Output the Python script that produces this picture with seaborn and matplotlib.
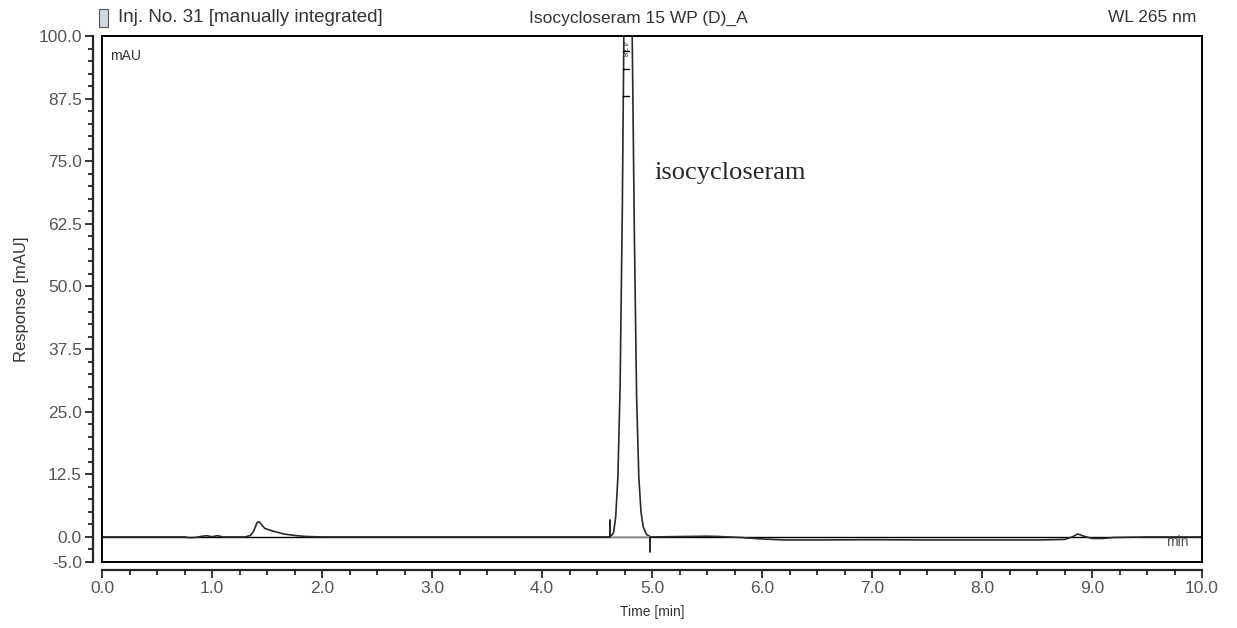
import numpy as np
import pandas as pd
import seaborn as sns
import matplotlib.pyplot as plt
from matplotlib.ticker import MultipleLocator, FixedLocator
from matplotlib.patches import Rectangle

# chromatogram trace (time in min, response in mAU)
time_min = [0.00, 0.75, 0.80, 0.85, 0.90, 0.95, 1.00, 1.05, 1.10, 1.30, 1.35, 1.38,
            1.41, 1.43, 1.48, 1.55, 1.65, 1.75, 1.85, 2.00, 4.62, 4.65, 4.67, 4.69,
            4.71, 4.73, 4.74, 4.75, 4.77, 4.78, 4.79, 4.81, 4.82, 4.84, 4.86, 4.88,
            4.90, 4.92, 4.95, 4.99, 5.50, 5.60, 5.80, 6.00, 6.20, 6.50, 7.00, 7.50,
            8.00, 8.50, 8.75, 8.82, 8.87, 8.92, 9.00, 9.10, 9.20, 9.50, 10.00]
response = [0.0, 0.0, -0.15, -0.1, 0.1, 0.25, 0.05, 0.25, 0.0, 0.0, 0.3, 1.2,
            2.9, 3.0, 1.7, 1.2, 0.6, 0.3, 0.1, 0.0, 0.0, 0.8, 4.0, 12.0,
            30.0, 65.0, 90.0, 115.0, 150.0, 160.0, 150.0, 115.0, 100.0, 60.0, 28.0, 12.0,
            5.0, 2.0, 0.5, 0.0, 0.15, 0.1, -0.1, -0.4, -0.6, -0.6, -0.55, -0.6,
            -0.6, -0.6, -0.5, 0.0, 0.6, 0.2, -0.3, -0.3, -0.1, 0.0, 0.0]

peak_rt = "4.78"
peak_name = "isocycloseram"
baseline_start = 4.62
baseline_end = 4.98

y_major = [-5.0, 0.0, 12.5, 25.0, 37.5, 50.0, 62.5, 75.0, 87.5, 100.0]
x_major = [0.0, 1.0, 2.0, 3.0, 4.0, 5.0, 6.0, 7.0, 8.0, 9.0, 10.0]

df = pd.DataFrame({"time": time_min, "resp": response})

sns.set_style("ticks")
plt.rcParams['font.family'] = ['Liberation Sans', 'DejaVu Sans']

fig = plt.figure(figsize=(12.37, 6.28), dpi=100)
ax = fig.add_axes([102/1237, 1 - 562/628, 1100/1237, 526/628])

ax.axhline(0, color="black", lw=1.0, zorder=1)
sns.lineplot(data=df, x="time", y="resp", ax=ax, color="#2a2a2a", lw=1.2, zorder=2)

# integration baseline and delimiters
ax.plot([baseline_start, baseline_end], [0, 0], color="#aaaaaa", lw=1.2, zorder=3)
ax.plot([baseline_start, baseline_start], [0, 3.4], color="black", lw=1.2, zorder=3)
ax.plot([baseline_end, baseline_end], [0, -3.0], color="black", lw=1.2, zorder=3)
for yy in [97.0, 93.5, 88.0]:
    ax.plot([4.74, 4.79], [yy, yy], color="black", lw=1.0, zorder=3)
ax.text(4.735, 99, peak_rt, rotation=-90, fontsize=6, va="top", ha="center", color="#333333")

ax.text(5.02, 72.6, peak_name, family="Liberation Serif", fontsize=19, va="center", ha="left")

ax.set_xlim(0, 10)
ax.set_ylim(-5, 100)

# plot frame, axes pulled outward like the original software
ax.spines["left"].set_position(("outward", 6.5))
ax.spines["bottom"].set_position(("outward", 6))
for s in ["left", "bottom"]:
    ax.spines[s].set_linewidth(1.6)
for s in ["top", "right"]:
    ax.spines[s].set_linewidth(1.4)
ax.add_patch(Rectangle((0, 0), 1, 1, transform=ax.transAxes, fill=False,
                       lw=1.4, ec="black", clip_on=False, zorder=5))

ax.yaxis.set_major_locator(FixedLocator(y_major))
ax.yaxis.set_minor_locator(MultipleLocator(2.5))
ax.xaxis.set_major_locator(FixedLocator(x_major))
ax.xaxis.set_minor_locator(MultipleLocator(0.25))
ax.set_yticklabels([f"{v:.1f}" for v in y_major])
ax.set_xticklabels([f"{v:.1f}" for v in x_major])
ax.tick_params(which="major", length=5.5, width=1.1, color="black", labelsize=12.5,
               labelcolor="#555555", pad=2.5)
ax.tick_params(which="minor", length=3.8, width=1.1, color="black")

ax.set_xlabel("Time [min]", fontsize=10, color="#333333", labelpad=6)
ax.set_ylabel("Response [mAU]", fontsize=12, color="#333333", labelpad=7)

ax.text(0.007, 0.975, "mAU", transform=ax.transAxes, fontsize=10, color="#333333",
        va="top", ha="left")
ax.text(0.988, 0.025, "min", transform=ax.transAxes, fontsize=10, color="#555555",
        va="bottom", ha="right")

# header line
fig.text(118/1237, 1 - 18/628, "Inj. No. 31 [manually integrated]", fontsize=13.5,
         color="#333333", va="center", ha="left")
fig.text(638/1237, 1 - 18/628, "Isocycloseram 15 WP (D)_A", fontsize=12.5,
         color="#333333", va="center", ha="center")
fig.text(1196/1237, 1 - 18/628, "WL 265 nm", fontsize=12.5,
         color="#333333", va="center", ha="right")
fig.patches.append(Rectangle((99/1237, 1 - 27/628), 9/1237, 18/628,
                             transform=fig.transFigure, fc="#cfd8e0", ec="#555555", lw=0.8))

fig.savefig("out.png", dpi=100)
